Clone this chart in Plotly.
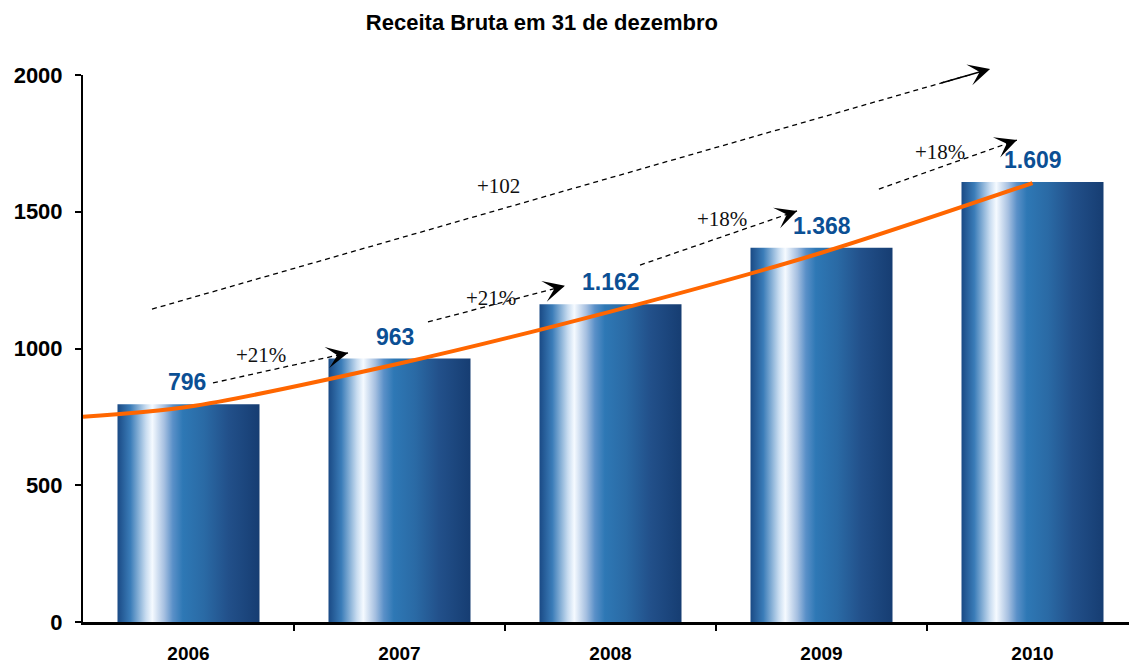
import plotly.graph_objects as go

# ---- data ----
years = ["2006", "2007", "2008", "2009", "2010"]
revenue = [796, 963, 1162, 1368, 1609]
revenue_labels = ["796", "963", "1.162", "1.368", "1.609"]
trend_x = [-0.5, 0, 1, 2, 3, 4]
trend_y = [750, 787, 945, 1135, 1350, 1605]
growth_labels = ["+21%", "+21%", "+18%", "+18%"]
total_label = "+102"

# ---- style / layout ----
BAR_W = 0.673
bar_scale = [
    [0.0, "#1a4a85"], [0.09, "#3a7cb8"], [0.2, "#c8dcf0"], [0.245, "#f5faff"],
    [0.33, "#a5bfe0"], [0.39, "#5a90c8"], [0.46, "#2e78b5"], [0.61, "#2a6aa5"],
    [0.78, "#22508a"], [1.0, "#163d72"],
]

fig = go.Figure()

for i, v in enumerate(revenue):
    x0, x1 = i - BAR_W / 2, i + BAR_W / 2
    fig.add_trace(go.Scatter(
        x=[x0, x1, x1, x0, x0], y=[0, 0, v, v, 0],
        mode="lines", line=dict(width=0), fill="toself",
        fillgradient=dict(type="horizontal", colorscale=bar_scale),
        hoverinfo="skip", showlegend=False,
    ))

fig.add_trace(go.Scatter(
    x=trend_x, y=trend_y, mode="lines",
    line=dict(color="#ff6600", width=4, shape="spline", smoothing=0.8),
    showlegend=False, hoverinfo="skip",
))

label_xshift = [-2, -5, 0, 0, 0]
annotations = []
for i, (v, lab) in enumerate(zip(revenue, revenue_labels)):
    annotations.append(dict(
        x=i, y=v, text=lab, showarrow=False, yanchor="bottom", yshift=7,
        xshift=label_xshift[i],
        font=dict(family="Liberation Sans, Arial", size=23, color="#0b4f94", weight="bold"),
    ))

# arrows (start x,y ; end x,y) in data coords, and their text positions
arrows = [
    ((0.116, 874), (0.756, 984)),
    ((1.135, 1097), (1.784, 1229)),
    ((2.14, 1305), (2.884, 1503)),
    ((3.272, 1583), (3.926, 1762)),
    ((-0.173, 1144), (3.799, 2022)),
]
text_pos = [(0.344, 978), (1.434, 1185), (2.529, 1473), (3.56, 1718), (1.467, 1594)]
texts = growth_labels + [total_label]

shapes = []
for (s, e) in arrows:
    shapes.append(dict(type="line", xref="x", yref="y", x0=s[0], y0=s[1], x1=e[0], y1=e[1],
                       line=dict(color="black", width=1.3, dash="5px,4px")))
    tx = e[0] - 0.06 * (e[0] - s[0])
    ty = e[1] - 0.06 * (e[1] - s[1])
    annotations.append(dict(
        x=e[0], y=e[1], ax=tx, ay=ty, axref="x", ayref="y", text="",
        showarrow=True, arrowhead=3, arrowsize=2.4, arrowwidth=1.5, arrowcolor="black",
    ))
for (p, t) in zip(text_pos, texts):
    annotations.append(dict(
        x=p[0], y=p[1], text=t, showarrow=False,
        font=dict(family="Liberation Serif, Times New Roman", size=21, color="#111111"),
    ))

fig.update_layout(
    width=1129, height=663,
    margin=dict(l=83, r=0, t=75, b=41, autoexpand=False),
    paper_bgcolor="white", plot_bgcolor="white",
    title=dict(text="<b>Receita Bruta em 31 de dezembro</b>", x=0.48, xanchor="center",
               xref="container", y=1 - 22 / 663, yanchor="middle", yref="container",
               font=dict(family="Liberation Sans, Arial", size=22, color="black")),
    annotations=annotations, shapes=shapes,
    showlegend=False,
)
fig.update_xaxes(
    range=[-0.5, -0.5 + 1046 / 211], tickvals=list(range(len(years))), ticktext=years,
    ticks="", showgrid=False, zeroline=False, automargin=False,
    showline=True, linecolor="black", linewidth=3,
    tickfont=dict(family="Liberation Sans, Arial", size=19, color="black", weight="bold"),
    ticklabelstandoff=12,
    minor=dict(tickvals=[0.5, 1.5, 2.5, 3.5], ticks="outside", ticklen=6, tickwidth=1.5, tickcolor="black"),
)
fig.update_yaxes(
    range=[0, 2000], tickvals=[0, 500, 1000, 1500, 2000],
    ticks="outside", ticklen=6, tickwidth=2, tickcolor="black", automargin=False,
    showgrid=False, zeroline=False, showline=True, linecolor="black", linewidth=2,
    tickfont=dict(family="Liberation Sans, Arial", size=22, color="black", weight="bold"),
    ticklabelstandoff=8,
)

fig.write_html("out.html", config={"displayModeBar": False},
               post_script="document.body.style.margin='0';document.body.style.overflow='hidden';")
